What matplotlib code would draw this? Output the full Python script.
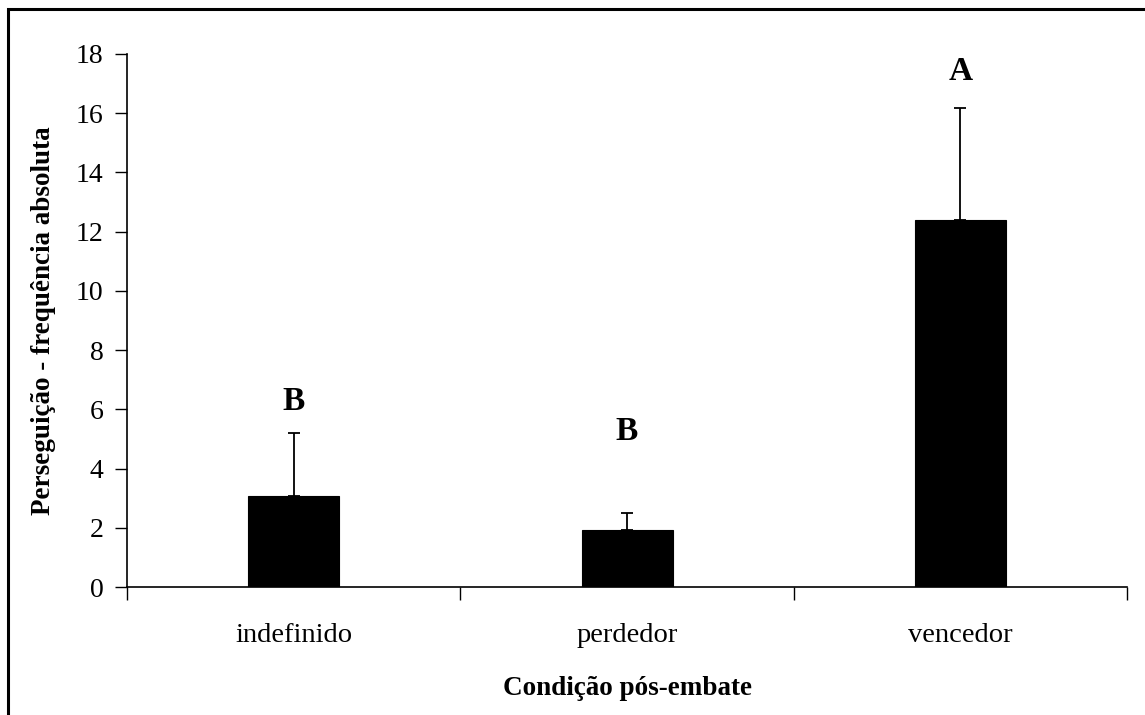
import matplotlib.pyplot as plt
from matplotlib.patches import Rectangle

# data
categories = ['indefinido', 'perdedor', 'vencedor']
means = [3.08, 1.92, 12.39]
errors = [2.12, 0.57, 3.80]
letters = ['B', 'B', 'A']
letter_y = [6.25, 5.25, 17.4]

plt.rcParams['font.family'] = ['Liberation Serif', 'DejaVu Serif']

fig = plt.figure(figsize=(11.45, 7.15), dpi=100)
ax = fig.add_axes([0.1109, 0.179, 0.8734, 0.7455])

x = range(len(categories))
ax.bar(x, means, width=0.273, color='black', edgecolor='black', linewidth=0.8,
       zorder=2)
ax.errorbar(x, means, yerr=[[0] * len(errors), errors], fmt='none',
            ecolor='black', elinewidth=1.3, capsize=4.5, capthick=1.3, zorder=1)

for xi, lab, ly in zip(x, letters, letter_y):
    ax.text(xi, ly, lab, ha='center', va='center', fontsize=24, fontweight='bold')

ax.set_xlim(-0.5, 2.5)
ax.set_ylim(0, 18)
ax.set_yticks(range(0, 19, 2))
ax.tick_params(axis='y', labelsize=20, length=9, width=1, pad=8, direction='out')

# category labels centred, ticks at category boundaries
ax.set_xticks(list(x))
ax.set_xticklabels(categories, fontsize=20.5)
ax.tick_params(axis='x', which='major', length=0, pad=26)
ax.set_xticks([-0.5, 0.5, 1.5, 2.5], minor=True)
ax.tick_params(axis='x', which='minor', length=9, width=1, direction='out')

for s in ['top', 'right']:
    ax.spines[s].set_visible(False)
for s in ['left', 'bottom']:
    ax.spines[s].set_linewidth(1.2)

ax.set_ylabel('Perseguição - frequência absoluta', fontsize=19.5, fontweight='bold',
              labelpad=14)
ax.set_xlabel('Condição pós-embate', fontsize=19.5, fontweight='bold', labelpad=20)

# outer frame like the original figure box
fig.patches.append(Rectangle((8 / 1145, -0.05), 1.2, 1 - 9 / 715 + 0.05,
                             transform=fig.transFigure, fill=False,
                             edgecolor='black', linewidth=2.2))

fig.savefig('out.png', dpi=100)
